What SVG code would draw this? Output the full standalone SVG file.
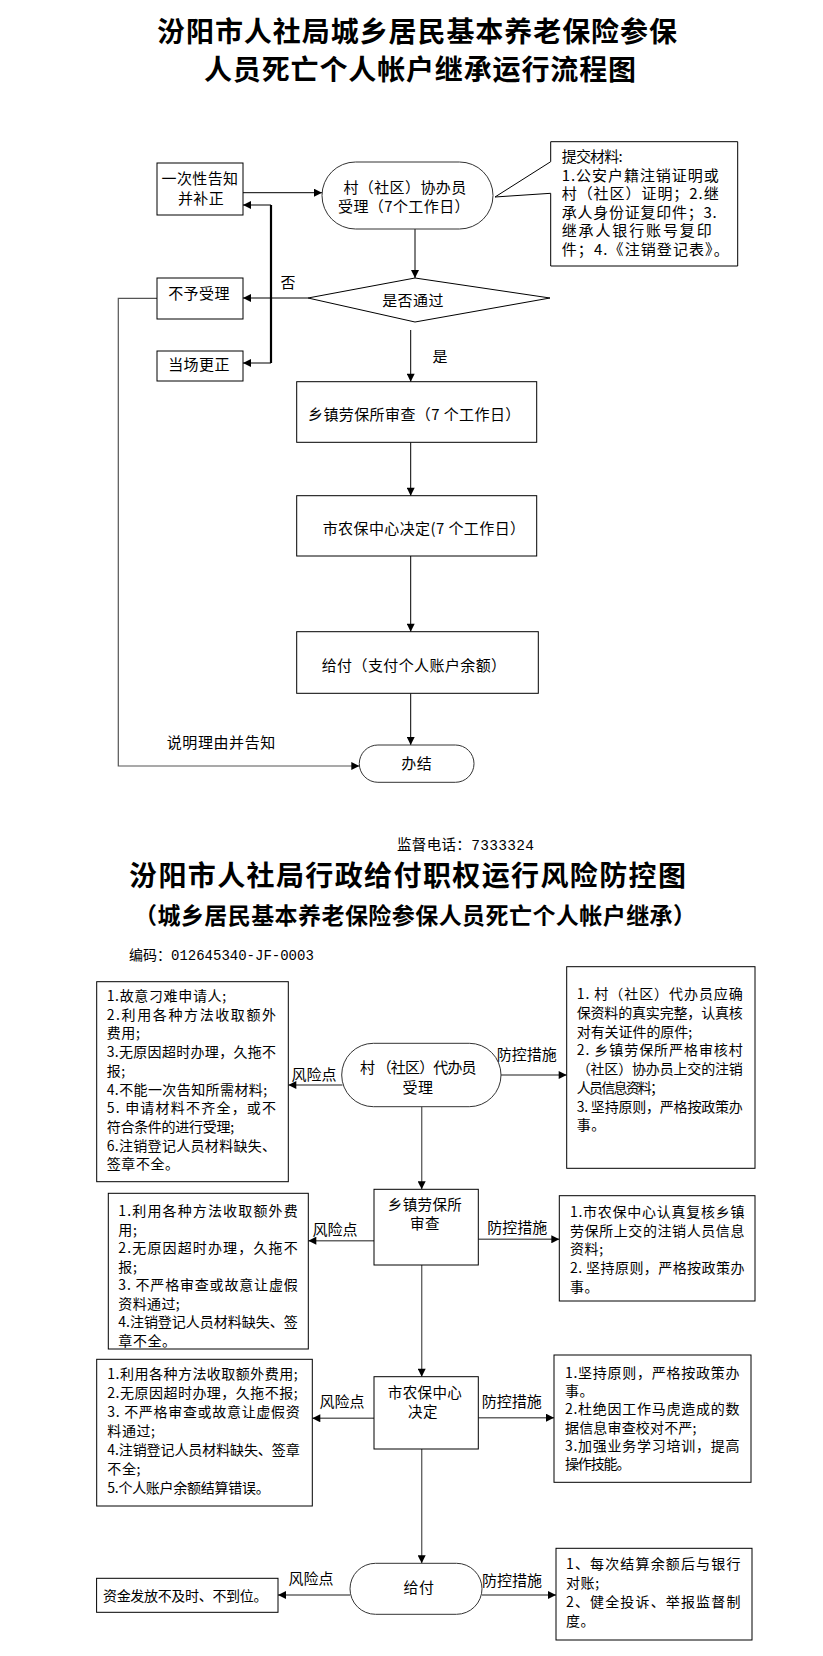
<svg xmlns="http://www.w3.org/2000/svg" width="823" height="1656" viewBox="0 0 823 1656">
<defs>
<marker id="ah" viewBox="0 0 10 10" refX="10" refY="5" markerWidth="9" markerHeight="8" markerUnits="userSpaceOnUse" orient="auto"><path d="M0,0 L10,5 L0,10 z" fill="#000"/></marker>
</defs>
<style>
text{font-family:"Noto Sans CJK SC","Noto Sans",sans-serif;fill:#000;dominant-baseline:central}
.t{font-size:28px;font-weight:bold;text-anchor:middle}
.n{font-size:15px;letter-spacing:0.4px}
.m{text-anchor:middle}
.b{font-size:14px;letter-spacing:0.6px}
.c{font-size:15px;letter-spacing:1px}
.lb{font-size:15px}
.mono{font-family:"Liberation Mono","Noto Sans CJK SC",monospace}
.box{fill:#fff;stroke:#000;stroke-width:1}
.rnd{fill:#fff;stroke:#333;stroke-width:1}
.ln{fill:none;stroke:#000;stroke-width:1}
.lg{fill:none;stroke:#555;stroke-width:1.2}
.lt{fill:none;stroke:#000;stroke-width:2.2}
.l2{fill:none;stroke:#666;stroke-width:1.4}
</style>
<rect width="823" height="1656" fill="#fff"/>

<g id="title1">
<text class="t" x="417" y="29.5" textLength="520" lengthAdjust="spacing">汾阳市人社局城乡居民基本养老保险参保</text>
<text class="t" x="420" y="68" textLength="432" lengthAdjust="spacing">人员死亡个人帐户继承运行流程图</text>
</g>

<g id="connectors1">
<line class="ln" x1="243" y1="192.7" x2="322" y2="192.7" marker-end="url(#ah)"/>
<line class="ln" x1="415" y1="229" x2="415" y2="278" marker-end="url(#ah)"/>
<line class="ln" x1="308" y1="298" x2="243" y2="298" marker-end="url(#ah)"/>
<path class="lt" d="M271,205 V363"/>
<line class="ln" x1="271" y1="205" x2="243" y2="205" marker-end="url(#ah)"/>
<line class="ln" x1="271" y1="363" x2="243" y2="363" marker-end="url(#ah)"/>
<line class="ln" x1="410.7" y1="330" x2="410.7" y2="381.7" marker-end="url(#ah)"/>
<line class="ln" x1="410.7" y1="442.3" x2="410.7" y2="495.7" marker-end="url(#ah)"/>
<line class="ln" x1="410.7" y1="556" x2="410.7" y2="631.7" marker-end="url(#ah)"/>
<line class="ln" x1="410.7" y1="693.3" x2="410.7" y2="745" marker-end="url(#ah)"/>
<path class="lg" d="M157,298.3 H118.3 V766 H359.3" marker-end="url(#ah)"/>
<text class="lb m" x="288" y="281.7">否</text>
<text class="lb m" x="440" y="355">是</text>
<text class="lb" x="166.7" y="741" style="letter-spacing:0.6px">说明理由并告知</text>
</g>

<g id="n-notify">
<rect class="box" x="157" y="163" width="86" height="52"/>
<text class="n m" x="200" y="177.7">一次性告知</text>
<text class="n m" x="201" y="197">并补正</text>
</g>
<g id="n-reject">
<rect class="box" x="157" y="278" width="86" height="41"/>
<text class="n m" x="199" y="292">不予受理</text>
</g>
<g id="n-correct">
<rect class="box" x="157" y="351" width="86" height="30"/>
<text class="n m" x="199" y="363">当场更正</text>
</g>
<g id="n-accept">
<rect class="rnd" x="322" y="162" width="171" height="67" rx="33.5"/>
<text class="n m" x="405" y="186">村（社区）协办员</text>
<text class="n m" x="404" y="205.5">受理（7个工作日）</text>
</g>
<g id="n-materials">
<path class="box" d="M550.7,141.7 H737.7 V266 H550.7 V193.3 L495,197 L550.7,161.7 Z"/>
<text class="c" x="561.7" y="155.5" textLength="62" lengthAdjust="spacing">提交材料:</text>
<text class="c" x="561.7" y="174" textLength="158" lengthAdjust="spacing">1.公安户籍注销证明或</text>
<text class="c" x="561.7" y="192.5" textLength="158" lengthAdjust="spacing">村（社区）证明；2.继</text>
<text class="c" x="561.7" y="211" textLength="156" lengthAdjust="spacing">承人身份证复印件；3.</text>
<text class="c" x="561.7" y="229.5" textLength="151" lengthAdjust="spacing">继承人银行账号复印</text>
<text class="c" x="561.7" y="248" textLength="168" lengthAdjust="spacing">件；4.《注销登记表》。</text>
</g>
<g id="n-check">
<polygon class="box" points="308,298 415,278 550,298 415,322"/>
<text class="n m" x="413" y="299">是否通过</text>
</g>
<g id="n-town">
<rect class="box" x="296.7" y="381.7" width="240" height="60.6"/>
<text class="n" x="308" y="413">乡镇劳保所审查（7 个工作日）</text>
</g>
<g id="n-city">
<rect class="box" x="296.7" y="495.7" width="240" height="60.3"/>
<text class="n" x="322.7" y="527.7">市农保中心决定(7 个工作日）</text>
</g>
<g id="n-pay">
<rect class="box" x="296.7" y="631.7" width="241.6" height="61.6"/>
<text class="n" x="321.7" y="664">给付（支付个人账户余额）</text>
</g>
<g id="n-done">
<rect class="rnd" x="359.3" y="745" width="114.7" height="37.3" rx="18.6"/>
<text class="n m" x="416.7" y="762.7">办结</text>
</g>

<g id="title2">
<text class="mono" x="397" y="845.5" style="font-size:14.5px" textLength="137" lengthAdjust="spacing">监督电话：7333324</text>
<text class="t" x="407.5" y="874" textLength="557" lengthAdjust="spacing">汾阳市人社局行政给付职权运行风险防控图</text>
<text class="t" x="415" y="913.5" style="font-size:23px" textLength="562" lengthAdjust="spacing">（城乡居民基本养老保险参保人员死亡个人帐户继承）</text>
<text class="mono" x="129" y="956" style="font-size:14px">编码：012645340-JF-0003</text>
</g>

<g id="connectors2">
<line class="l2" x1="421.7" y1="1106.7" x2="421.7" y2="1189.3" marker-end="url(#ah)"/>
<line class="l2" x1="421.7" y1="1265" x2="421.7" y2="1376.7" marker-end="url(#ah)"/>
<line class="l2" x1="421.7" y1="1449" x2="421.7" y2="1563.3" marker-end="url(#ah)"/>
<line class="l2" x1="342.5" y1="1085" x2="288.3" y2="1085" marker-end="url(#ah)"/>
<line class="l2" x1="501" y1="1075" x2="566.7" y2="1075" marker-end="url(#ah)"/>
<line class="l2" x1="374" y1="1240.7" x2="308.3" y2="1240.7" marker-end="url(#ah)"/>
<line class="l2" x1="478.3" y1="1239.3" x2="559.3" y2="1239.3" marker-end="url(#ah)"/>
<line class="l2" x1="374" y1="1418.3" x2="312.3" y2="1418.3" marker-end="url(#ah)"/>
<line class="l2" x1="478.3" y1="1417.7" x2="554" y2="1417.7" marker-end="url(#ah)"/>
<line class="l2" x1="350" y1="1595" x2="278" y2="1595" marker-end="url(#ah)"/>
<line class="l2" x1="482" y1="1595" x2="556" y2="1595" marker-end="url(#ah)"/>
<text class="lb m" x="314" y="1073">风险点</text>
<text class="lb" x="496.7" y="1053.3">防控措施</text>
<text class="lb m" x="335" y="1228.3">风险点</text>
<text class="lb" x="487.3" y="1226.7">防控措施</text>
<text class="lb m" x="342" y="1400">风险点</text>
<text class="lb" x="481.7" y="1400">防控措施</text>
<text class="lb m" x="311" y="1577.3">风险点</text>
<text class="lb" x="482" y="1579.3">防控措施</text>
</g>

<g id="p2-accept">
<rect class="rnd" x="341.7" y="1043.3" width="159.3" height="63.4" rx="31.7"/>
<text class="n" x="360" y="1066.5" textLength="117" lengthAdjust="spacing">村 （社区）代办员</text>
<text class="n m" x="418" y="1086">受理</text>
</g>
<g id="p2-risk1">
<rect class="box" x="96.7" y="981.7" width="191.6" height="200"/>
<text class="b" x="106.7" y="995" textLength="120" lengthAdjust="spacing">1.故意刁难申请人;</text>
<text class="b" x="106.7" y="1013.7" textLength="170" lengthAdjust="spacing">2.利用各种方法收取额外</text>
<text class="b" x="106.7" y="1032.4">费用;</text>
<text class="b" x="106.7" y="1051.1" textLength="170" lengthAdjust="spacing">3.无原因超时办理，久拖不</text>
<text class="b" x="106.7" y="1069.8">报;</text>
<text class="b" x="106.7" y="1088.5" textLength="161" lengthAdjust="spacing">4.不能一次告知所需材料;</text>
<text class="b" x="106.7" y="1107.2" textLength="170" lengthAdjust="spacing">5.  申请材料不齐全，或不</text>
<text class="b" x="106.7" y="1125.9" textLength="128" lengthAdjust="spacing">符合条件的进行受理;</text>
<text class="b" x="106.7" y="1144.6" textLength="170" lengthAdjust="spacing">6.注销登记人员材料缺失、</text>
<text class="b" x="106.7" y="1163.3">签章不全。</text>
</g>
<g id="p2-ctrl1">
<rect class="box" x="566.7" y="966.7" width="188.3" height="201.6"/>
<text class="b" x="576.7" y="993.3" textLength="166.7" lengthAdjust="spacing">1. 村（社区）代办员应确</text>
<text class="b" x="576.7" y="1012" textLength="166.7" lengthAdjust="spacing">保资料的真实完整，认真核</text>
<text class="b" x="576.7" y="1030.7" textLength="116" lengthAdjust="spacing">对有关证件的原件;</text>
<text class="b" x="576.7" y="1049.4" textLength="166.7" lengthAdjust="spacing">2. 乡镇劳保所严格审核村</text>
<text class="b" x="576.7" y="1068.1" textLength="166.7" lengthAdjust="spacing">（社区）协办员上交的注销</text>
<text class="b" x="576.7" y="1086.8" textLength="88" lengthAdjust="spacing">人员信息资料；</text>
<text class="b" x="576.7" y="1105.5" textLength="166.7" lengthAdjust="spacing">3. 坚持原则，严格按政策办</text>
<text class="b" x="576.7" y="1124.2">事。</text>
</g>
<g id="p2-review">
<rect class="box" x="374" y="1189.3" width="104.3" height="75.7"/>
<text class="n m" x="425" y="1203.5" style="font-size:14.5px">乡镇劳保所</text>
<text class="n m" x="425" y="1222.5" style="font-size:14.5px">审查</text>
</g>
<g id="p2-risk2">
<rect class="box" x="108.3" y="1193.3" width="200" height="155.7"/>
<text class="b" x="118.3" y="1210" textLength="180" lengthAdjust="spacing">1.利用各种方法收取额外费</text>
<text class="b" x="118.3" y="1228.5">用;</text>
<text class="b" x="118.3" y="1247" textLength="180" lengthAdjust="spacing">2.无原因超时办理，久拖不</text>
<text class="b" x="118.3" y="1265.5">报;</text>
<text class="b" x="118.3" y="1284" textLength="180" lengthAdjust="spacing">3.  不严格审查或故意让虚假</text>
<text class="b" x="118.3" y="1302.5" textLength="62" lengthAdjust="spacing">资料通过;</text>
<text class="b" x="118.3" y="1321" textLength="180" lengthAdjust="spacing">4.注销登记人员材料缺失、签</text>
<text class="b" x="118.3" y="1339.5">章不全。</text>
</g>
<g id="p2-ctrl2">
<rect class="box" x="559.3" y="1195.7" width="195.7" height="105.3"/>
<text class="b" x="570" y="1210.7" textLength="175" lengthAdjust="spacing">1.市农保中心认真复核乡镇</text>
<text class="b" x="570" y="1229.5" textLength="175" lengthAdjust="spacing">劳保所上交的注销人员信息</text>
<text class="b" x="570" y="1248.3">资料;</text>
<text class="b" x="570" y="1267.1" textLength="175" lengthAdjust="spacing">2.  坚持原则，严格按政策办</text>
<text class="b" x="570" y="1285.9">事。</text>
</g>
<g id="p2-decide">
<rect class="box" x="374" y="1376.7" width="104.3" height="72.3"/>
<text class="n m" x="425" y="1391" style="font-size:14.5px">市农保中心</text>
<text class="n m" x="423" y="1410.5" style="font-size:14.5px">决定</text>
</g>
<g id="p2-risk3">
<rect class="box" x="96.7" y="1359.3" width="215.6" height="146.7"/>
<text class="b" x="107.3" y="1373.3" textLength="191" lengthAdjust="spacing">1.利用各种方法收取额外费用;</text>
<text class="b" x="107.3" y="1392.2" textLength="191" lengthAdjust="spacing">2.无原因超时办理，久拖不报;</text>
<text class="b" x="107.3" y="1411.1" textLength="193" lengthAdjust="spacing">3.  不严格审查或故意让虚假资</text>
<text class="b" x="107.3" y="1430">料通过;</text>
<text class="b" x="107.3" y="1448.9" textLength="193" lengthAdjust="spacing">4.注销登记人员材料缺失、签章</text>
<text class="b" x="107.3" y="1467.8">不全;</text>
<text class="b" x="107.3" y="1486.7" textLength="163" lengthAdjust="spacing">5.个人账户余额结算错误。</text>
</g>
<g id="p2-ctrl3">
<rect class="box" x="554" y="1355" width="197" height="127.3"/>
<text class="b" x="565" y="1371.7" textLength="175" lengthAdjust="spacing">1.坚持原则，严格按政策办</text>
<text class="b" x="565" y="1390">事。</text>
<text class="b" x="565" y="1408.3" textLength="175" lengthAdjust="spacing">2.杜绝因工作马虎造成的数</text>
<text class="b" x="565" y="1426.6" textLength="132" lengthAdjust="spacing">据信息审查校对不严;</text>
<text class="b" x="565" y="1444.9" textLength="175" lengthAdjust="spacing">3.加强业务学习培训，提高</text>
<text class="b" x="565" y="1463.2" textLength="66" lengthAdjust="spacing">操作技能。</text>
</g>
<g id="p2-pay">
<rect class="rnd" x="350" y="1563.3" width="132" height="51" rx="25.5"/>
<text class="n m" x="419" y="1586">给付</text>
</g>
<g id="p2-risk4">
<rect class="box" x="96.6" y="1578.3" width="181.4" height="34"/>
<text class="b" x="103" y="1595" textLength="165" lengthAdjust="spacing">资金发放不及时、不到位。</text>
</g>
<g id="p2-ctrl4">
<rect class="box" x="556" y="1548.3" width="196" height="91.7"/>
<text class="b" x="566" y="1562.7" textLength="175" lengthAdjust="spacing">1、每次结算余额后与银行</text>
<text class="b" x="566" y="1581.7">对账;</text>
<text class="b" x="566" y="1600.7" textLength="175" lengthAdjust="spacing">2、健全投诉、举报监督制</text>
<text class="b" x="566" y="1619.7">度。</text>
</g>
</svg>
